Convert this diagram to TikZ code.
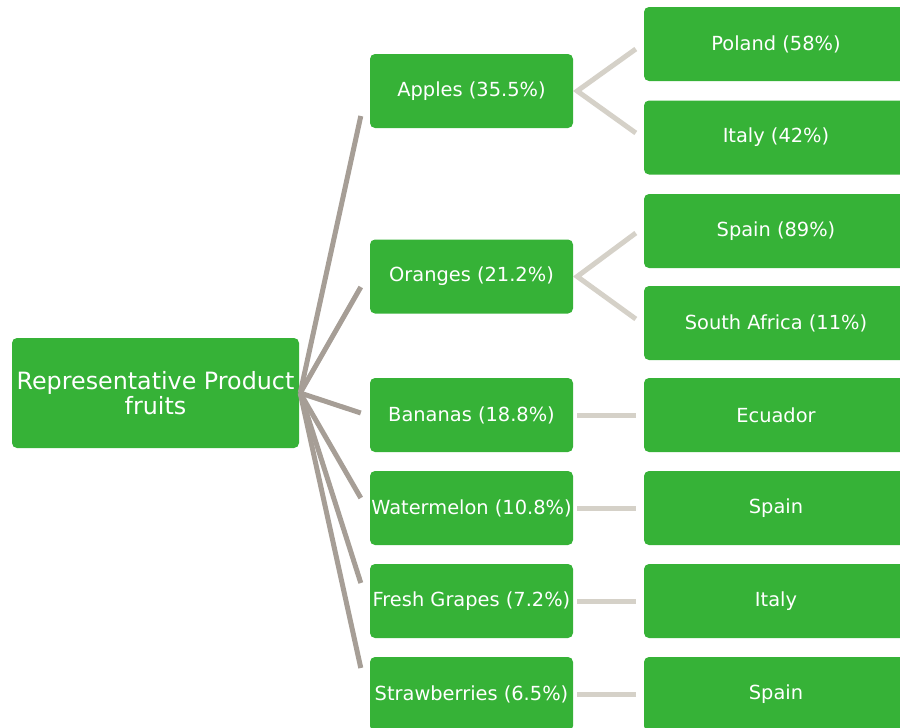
\documentclass[tikz,border=0pt]{standalone}
\usepackage{fontspec}
\setmainfont{DejaVu Sans}
\usetikzlibrary{calc}
\definecolor{leafgreen}{RGB}{54,178,55}
\definecolor{trunk}{RGB}{166,158,150}
\definecolor{twig}{RGB}{213,209,200}
\begin{document}
\begin{tikzpicture}[x=1pt,y=-1pt,
  box/.style={rectangle,rounded corners=5pt,fill=leafgreen,text=white,inner sep=0pt,align=center},
  rootbox/.style={box,minimum width=287pt,minimum height=110pt,font=\fontsize{23.8}{25.5}\selectfont},
  catbox/.style={box,minimum width=203pt,minimum height=74pt,font=\fontsize{19.4}{22}\selectfont},
  srcbox/.style={box,minimum width=264pt,minimum height=74pt,font=\fontsize{19.4}{22}\selectfont},
  trunkline/.style={draw=trunk,line width=5pt},
  twigline/.style={draw=twig,line width=5pt}]
\useasboundingbox (0,0) rectangle (900,728);

% root
\node[rootbox] (root) at (155.5,393) {Representative Product\\fruits};

% product categories
\node[catbox] (apples) at (471.5,91) {Apples (35.5\%)};
\node[catbox] (oranges) at (471.5,276.5) {Oranges (21.2\%)};
\node[catbox] (bananas) at (471.5,415) {Bananas (18.8\%)};
\node[catbox] (melon) at (471.5,508) {Watermelon (10.8\%)};
\node[catbox] (grapes) at (471.5,601) {Fresh Grapes (7.2\%)};
\node[catbox] (straw) at (471.5,694) {Strawberries (6.5\%)};

% origins
\node[srcbox] (poland) at (776,44) {Poland (58\%)};
\node[srcbox] (italyA) at (776,137.5) {Italy (42\%)};
\node[srcbox] (spainO) at (776,231) {Spain (89\%)};
\node[srcbox] (safrica) at (776,323) {South Africa (11\%)};
\node[srcbox] (ecuador) at (776,415) {Ecuador};
\node[srcbox] (spainW) at (776,508) {Spain};
\node[srcbox] (italyG) at (776,601) {Italy};
\node[srcbox] (spainS) at (776,694) {Spain};

% root branches
\coordinate (hub) at ($(root.east)+(1,0)$);
\coordinate (tA) at ($(apples.west)+(-9,25)$);
\coordinate (tO) at ($(oranges.west)+(-9,10.5)$);
\coordinate (tB) at ($(bananas.west)+(-9,-2)$);
\coordinate (tW) at ($(melon.west)+(-9,-10)$);
\coordinate (tG) at ($(grapes.west)+(-9,-18)$);
\coordinate (tS) at ($(straw.west)+(-9,-26)$);
\foreach \t in {tA,tO,tB,tW,tG,tS}
  \draw[trunkline] (hub) -- (\t);

% category to origin links
\coordinate (aL) at ($(apples.east)+(4,0)$);
\coordinate (oL) at ($(oranges.east)+(4,0)$);
\draw[twigline] ($(poland.west)+(-8,5)$) -- (aL) -- ($(italyA.west)+(-8,-4.5)$);
\draw[twigline] ($(spainO.west)+(-8,2)$) -- (oL) -- ($(safrica.west)+(-8,-4)$);
\draw[twigline] ($(bananas.east)+(4,0)$) -- ($(ecuador.west)+(-8,0)$);
\draw[twigline] ($(melon.east)+(4,0)$) -- ($(spainW.west)+(-8,0)$);
\draw[twigline] ($(grapes.east)+(4,0)$) -- ($(italyG.west)+(-8,0)$);
\draw[twigline] ($(straw.east)+(4,0)$) -- ($(spainS.west)+(-8,0)$);
\end{tikzpicture}
\end{document}
